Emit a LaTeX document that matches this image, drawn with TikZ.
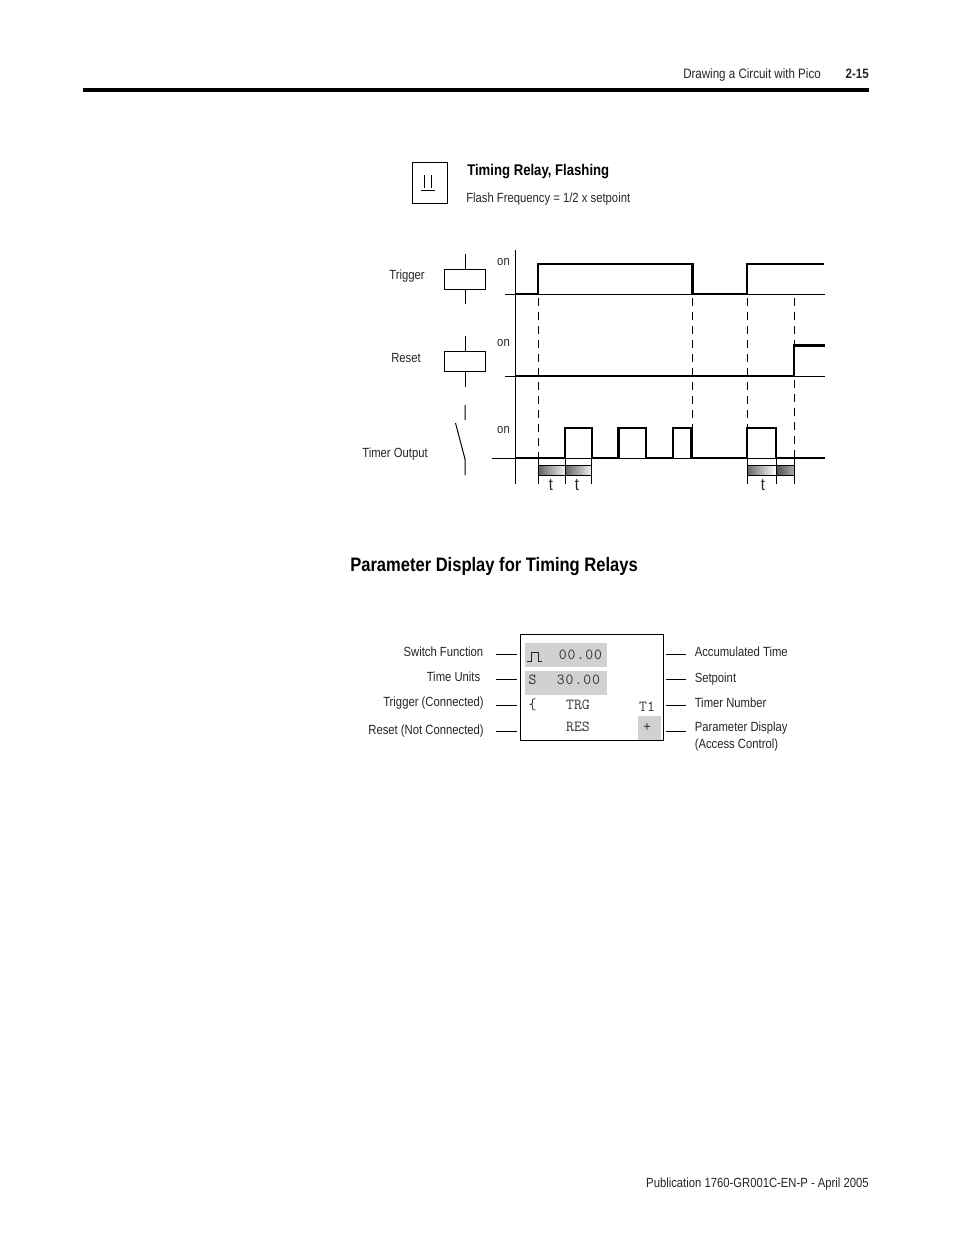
\documentclass[tikz,border=0pt]{standalone}
\usepackage{fontspec}
\setmainfont[FakeStretch=0.85]{Liberation Sans}
\newfontfamily\dispfont{Latin Modern Mono}
\begin{document}
\begin{tikzpicture}[x=0.75pt,y=-0.75pt,
  lbl/.style={inner sep=0pt,yshift=-0.6pt,font=\fontsize{9.95pt}{11pt}\selectfont,text=black!85},
  lblr/.style={lbl,anchor=mid east},
  lbll/.style={lbl,anchor=mid west},
  disp/.style={inner sep=0pt,font=\dispfont\bfseries\fontsize{11.5pt}{12pt}\selectfont,text=black!80},
  thin line/.style={line width=0.75pt},
  sig/.style={line width=1.7pt,line join=miter},
  dashline/.style={line width=0.75pt,dash pattern=on 6pt off 4.5pt},
  box/.style={draw,line width=0.75pt,inner sep=0pt,fill=white},
  grey/.style={fill=black!18,draw=none},
  tlabel/.style={inner sep=0pt,font=\fontsize{13pt}{13pt}\selectfont,text=black!85}]
\useasboundingbox[fill=white] (0,0) rectangle (954,1235);

% page furniture
\fill (83,88) rectangle (869,92);
\node[lbll,font=\fontsize{10.2pt}{11pt}\selectfont] (hdr) at (683,74.5) {Drawing a Circuit with Pico};
\node[lblr,font=\bfseries\fontsize{10.2pt}{12pt}\selectfont] (pg) at (869,74.5) {2-15};
\node[lblr] (ftr) at (869,1183.5) {Publication 1760-GR001C-EN-P - April 2005};

% symbol box and title
\node[box,minimum width=26.25pt,minimum height=30.75pt] (sym) at (429.5,182.5) {};
\coordinate (s1a) at (424,175); \coordinate (s1b) at (424,188);
\coordinate (s2a) at (431,175); \coordinate (s2b) at (431,188);
\coordinate (s3a) at (421,190.5); \coordinate (s3b) at (435,190.5);
\draw[thin line] (s1a) -- (s1b) (s2a) -- (s2b) (s3a) -- (s3b);
\node[lbll,text=black,font=\bfseries\fontsize{11.6pt}{12pt}\selectfont] (title) at (467,171.5) {Timing Relay, Flashing};
\node[lbll] (sub) at (466,198.5) {Flash Frequency = 1/2 x setpoint};

% left side symbols
\node[lblr] (ltrig) at (425,275.5) {Trigger};
\node[box,minimum width=30.75pt,minimum height=15pt] (ctrig) at (465,279) {};
\coordinate (ct1) at (465,254); \coordinate (ct2) at (465,304);
\draw[thin line] (ct1) -- (ctrig.north) (ctrig.south) -- (ct2);

\node[lblr] (lres) at (421,358.5) {Reset};
\node[box,minimum width=30.75pt,minimum height=15pt] (cres) at (465,361) {};
\coordinate (cr1) at (465,336); \coordinate (cr2) at (465,387);
\draw[thin line] (cr1) -- (cres.north) (cres.south) -- (cr2);

\node[lblr] (lout) at (428,453.5) {Timer Output};
\coordinate (o1) at (465,405); \coordinate (o2) at (465,420);
\coordinate (o3) at (455.5,423); \coordinate (o4) at (465,459); \coordinate (o5) at (465,475);
\draw[thin line] (o1) -- (o2) (o3) -- (o4) -- (o5);

% axes
\coordinate (ax1) at (515,250); \coordinate (ax2) at (515,484);
\draw[thin line] (ax1) -- (ax2);
\coordinate (b1a) at (505,294.5); \coordinate (b1b) at (825,294.5);
\coordinate (b2a) at (505,376.5); \coordinate (b2b) at (825,376.5);
\coordinate (b3a) at (492,458); \coordinate (b3b) at (825,458);
\draw[thin line] (b1a) -- (b1b) (b2a) -- (b2b) (b3a) -- (b3b);
\node[lbl] (on1) at (503.5,261) {on};
\node[lbl] (on2) at (503.5,342) {on};
\node[lbl] (on3) at (503.5,429) {on};

% dashed guides
\draw[dashline] (538,298) -- (538,458);
\draw[dashline] (692,298) -- (692,428);
\draw[dashline] (747.5,298) -- (747.5,428);
\draw[dashline] (794.5,298) -- (794.5,346);
\draw[dashline] (794.5,380) -- (794.5,458);

% signals
\draw[sig] (515,294) -- (538,294) -- (538,264) -- (692.5,264) -- (692.5,294) -- (747,294) -- (747,264) -- (824,264);
\draw[sig] (515,376) -- (794,376) -- (794,345.5) -- (825,345.5);
\draw[sig] (515,458) -- (565,458) -- (565,428) -- (592,428) -- (592,458) -- (618.5,458) -- (618.5,428) -- (646,428) -- (646,458) -- (673,458) -- (673,428) -- (691.5,428) -- (691.5,458) -- (747,458) -- (747,428) -- (776,428) -- (776,458) -- (825,458);

% time bars
\shade[left color=black!62,right color=black!6] (538,465) rectangle (565,475);
\shade[left color=black!62,right color=black!6] (565,465) rectangle (591.5,475);
\shade[left color=black!60,right color=black!0] (747,465) rectangle (776,475);
\shade[left color=black!70,right color=black!32] (776,465) rectangle (794.5,475);
\draw[thin line] (538,465) -- (591.5,465) (538,475) -- (591.5,475);
\draw[thin line] (747,465) -- (794.5,465) (747,475) -- (794.5,475);
\draw[thin line] (538,458) -- (538,484) (565,458) -- (565,484) (591.5,458) -- (591.5,484);
\draw[thin line] (747.5,458) -- (747.5,484) (776,458) -- (776,484) (794.5,458) -- (794.5,484);
\node[tlabel] (t1) at (551,484.5) {t};
\node[tlabel] (t2) at (577,484.5) {t};
\node[tlabel] (t3) at (763,484.5) {t};

% heading
\node[lbll,text=black,font=\bfseries\fontsize{14.6pt}{18pt}\selectfont] (head) at (350,567) {Parameter Display for Timing Relays};

% display
\node[box,fill=none,minimum width=107.6pt,minimum height=79.5pt] (dsp) at (592,687) {};
\fill[grey] (525,643) rectangle (607,667);
\fill[grey] (525,671) rectangle (607,695);
\fill[grey] (638,716) rectangle (661,739.5);
\draw[line width=0.6pt,black!85] (527,661) -- (531,661) -- (531,652) -- (538,652) -- (538,661) -- (542,661);
\node[disp] (d1) at (580.5,655) {0\kern.7pt0\kern.7pt.\kern.7pt0\kern.7pt0};
\node[disp] (d2) at (532.5,680) {S};
\node[disp] (d3) at (578.5,680) {3\kern.7pt0\kern.7pt.\kern.7pt0\kern.7pt0};
\node[disp] (d4) at (532.5,705) {\{};
\node[disp] (d5) at (578,705) {TRG};
\node[disp] (d6) at (647,707) {T1};
\node[disp] (d7) at (578,727) {RES};
\node[disp] (d8) at (647,727) {+};

% callouts
\foreach \n/\y in {a/654,b/679,c/705,d/731}{
  \coordinate (l\n) at (496,\y);
  \coordinate (r\n) at (686,\y);
  \draw[thin line] (l\n) -- (517,\y);
  \draw[thin line] (666,\y) -- (r\n);
}
\node[lblr] (la) at (483.5,652.5) {Switch Function};
\node[lblr] (lb) at (480.5,677.5) {Time Units};
\node[lblr] (lc) at (484,702.5) {Trigger (Connected)};
\node[lblr] (ld) at (484,730.5) {Reset (Not Connected)};
\node[lbll] (ra) at (694.5,652.5) {Accumulated Time};
\node[lbll] (rb) at (694.5,678.5) {Setpoint};
\node[lbll] (rc) at (694.5,703.5) {Timer Number};
\node[lbll] (rd) at (694.5,727.5) {Parameter Display};
\node[lbll] (re) at (694.5,744.5) {(Access Control)};
\end{tikzpicture}
\end{document}
